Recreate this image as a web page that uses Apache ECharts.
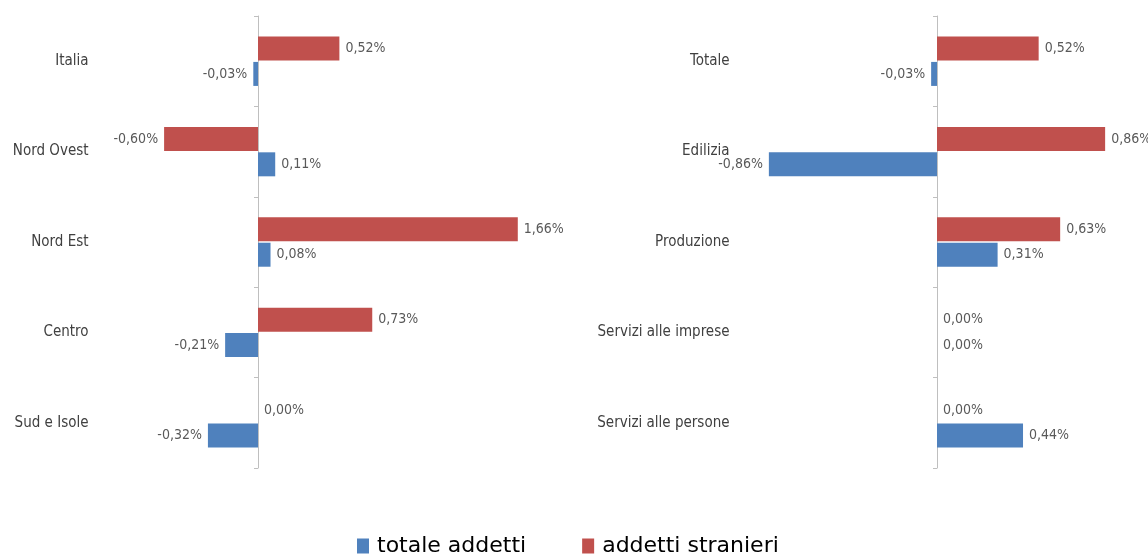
<!DOCTYPE html>
<html>
<head>
<meta charset="utf-8">
<script src="https://cdn.jsdelivr.net/npm/echarts@6/dist/echarts.min.js"></script>
<style>
  html, body { margin: 0; padding: 0; background: #fff; }
  #chart { width: 1148px; height: 556px; }
</style>
</head>
<body>
<div id="chart"></div>
<script>
// aree geografiche
const areeLabels = ['Italia', 'Nord Ovest', 'Nord Est', 'Centro', 'Sud e Isole'];
const areeTotale = [-0.03, 0.11, 0.08, -0.21, -0.32];
const areeStranieri = [0.52, -0.60, 1.66, 0.73, 0.00];

// settori
const settoriLabels = ['Totale', 'Edilizia', 'Produzione', 'Servizi alle imprese', 'Servizi alle persone'];
const settoriTotale = [-0.03, -0.86, 0.31, 0.00, 0.44];
const settoriStranieri = [0.52, 0.86, 0.63, 0.00, 0.00];

const BLUE = '#4F81BD';
const RED = '#C0504D';
const labelFont = "'Liberation Sans Narrow', 'DejaVu Sans Condensed', sans-serif";

const fmt = v => v.toFixed(2).replace('.', ',') + '%';

const toData = arr => arr.map(v => ({
  value: v,
  label: { position: v < 0 ? 'left' : 'right' }
}));

const makeSeries = (name, color, data, idx) => ({
  name: name,
  type: 'bar',
  xAxisIndex: idx,
  yAxisIndex: idx,
  barWidth: 24,
  barGap: '6%',
  itemStyle: { color: color },
  label: {
    show: true,
    distance: 6,
    color: '#595959',
    fontFamily: labelFont,
    fontSize: 14,
    formatter: p => fmt(p.value)
  },
  data: toData(data)
});

// le etichette restano sul bordo della griglia, la linea va sullo zero
const catAxis = (labels, idx, margin) => ({
  type: 'category',
  gridIndex: idx,
  inverse: true,
  data: labels,
  axisLine: { onZero: true, lineStyle: { color: '#BFBFBF' } },
  axisTick: { show: true, length: 4, lineStyle: { color: '#BFBFBF' } },
  axisLabel: {
    margin: margin,
    color: '#404040',
    fontFamily: labelFont,
    fontSize: 15
  }
});

const valAxis = (idx, min, max) => ({
  type: 'value',
  gridIndex: idx,
  min: min,
  max: max,
  show: false,
  splitLine: { show: false }
});

const chart = echarts.init(document.getElementById('chart'));
chart.setOption({
  animation: false,
  grid: [
    { left: 101.5, top: 16, width: 469.5, height: 452, containLabel: false, outerBoundsMode: 'none' },
    { left: 741.5, top: 16, width: 391, height: 452, containLabel: false, outerBoundsMode: 'none' }
  ],
  xAxis: [valAxis(0, -1, 2), valAxis(1, -1, 1)],
  yAxis: [catAxis(areeLabels, 0, 13), catAxis(settoriLabels, 1, 12)],
  legend: {
    data: ['totale addetti', 'addetti stranieri'],
    left: 352,
    top: 530,
    icon: 'rect',
    itemWidth: 12,
    itemHeight: 15,
    itemGap: 56,
    textStyle: { color: '#000', fontFamily: 'DejaVu Sans', fontSize: 22, padding: [0, 0, 0, 3] }
  },
  series: [
    makeSeries('addetti stranieri', RED, areeStranieri, 0),
    makeSeries('totale addetti', BLUE, areeTotale, 0),
    makeSeries('addetti stranieri', RED, settoriStranieri, 1),
    makeSeries('totale addetti', BLUE, settoriTotale, 1)
  ]
});
</script>
</body>
</html>
